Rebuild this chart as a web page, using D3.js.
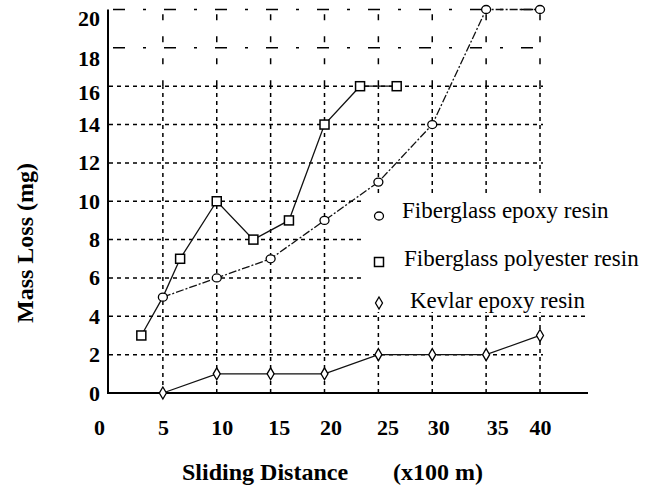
<!DOCTYPE html>
<html>
<head>
<meta charset="utf-8">
<script src="https://cdn.jsdelivr.net/npm/d3@7"></script>
<style>
  body { margin: 0; background: #fff; }
  svg { display: block; }
</style>
</head>
<body>
<svg id="chart" width="657" height="488"></svg>
<script>
// Data
const distance = [5, 10, 15, 20, 25, 30, 35, 40];
const epoxyLoss = [5, 6, 7, 9, 11, 14, 20, 20];
const polyesterDistance = [3, 5, 6.6, 10, 13.4, 16.7, 20, 23.3, 26.7];
const polyesterLoss = [3, 5, 7, 10, 8, 9, 14, 16, 16];
const kevlarLoss = [0, 1, 1, 1, 2, 2, 2, 3];
const seriesNames = ["Fiberglass epoxy resin", "Fiberglass polyester resin", "Kevlar epoxy resin"];
const yTicks = [0, 2, 4, 6, 8, 10, 12, 14, 16, 18, 20];
const xTicks = [0, 5, 10, 15, 20, 25, 30, 35, 40];

const serif = "'Liberation Serif', 'Times New Roman', serif";
const svg = d3.select("#chart");

const x = d3.scaleLinear().domain([0, 40]).range([109, 540]);
const y = d3.scaleLinear().domain([0, 20]).range([393, 9.5]);

// Grid
const grid = svg.append("g").attr("stroke", "#000").attr("stroke-width", 1.5).attr("fill", "none");
xTicks.slice(1).forEach(v => {
    grid.append("line")
        .attr("x1", x(v)).attr("x2", x(v))
        .attr("y1", y(0)).attr("y2", y(16))
        .attr("stroke-dasharray", "4,4");
    grid.append("line")
        .attr("x1", x(v)).attr("x2", x(v))
        .attr("y1", y(16)).attr("y2", y(20))
        .attr("stroke-dasharray", "6,16");
});
yTicks.filter(v => v > 0 && v <= 16).forEach(v => {
    grid.append("line")
        .attr("x1", x(0)).attr("x2", v === 4 ? 588 : x(40) + 3)
        .attr("y1", y(v)).attr("y2", y(v))
        .attr("stroke-dasharray", "4,4");
});
[18, 20].forEach(v => {
    grid.append("line")
        .attr("x1", x(0) + 4).attr("x2", x(40) + 3)
        .attr("y1", y(v)).attr("y2", y(v))
        .attr("stroke-dasharray", "12,18,3,18");
});

// Legend background covers the grid behind it
svg.append("rect")
    .attr("x", 364).attr("y", 193).attr("width", 240).attr("height", 119)
    .attr("fill", "#fff");

// Axis lines
svg.append("line").attr("x1", 108).attr("x2", 108).attr("y1", y(20)).attr("y2", y(0))
    .attr("stroke", "#000").attr("stroke-width", 2);
svg.append("line").attr("x1", 107).attr("x2", 588).attr("y1", y(0)).attr("y2", y(0))
    .attr("stroke", "#000").attr("stroke-width", 2);

// Tick labels
const yNudge = { 16: 6, 18: 11, 20: 9 };
const yAxis = svg.append("g")
    .attr("transform", "translate(108,0)")
    .call(d3.axisLeft(y).tickValues(yTicks).tickSize(0).tickPadding(8))
    .attr("font-family", serif).attr("font-size", 22).attr("font-weight", "bold");
yAxis.select(".domain").remove();
yAxis.selectAll(".tick text")
    .attr("fill", "#000")
    .attr("transform", d => `translate(0,${yNudge[d] || 0})`);

const xNudge = { 0: -10, 10: 5, 15: 8, 20: 6, 25: 9, 30: 6, 35: 11 };
const xAxis = svg.append("g")
    .attr("transform", `translate(0,${y(0)})`)
    .call(d3.axisBottom(x).tickValues(xTicks).tickSize(0).tickPadding(26))
    .attr("font-family", serif).attr("font-size", 22).attr("font-weight", "bold");
xAxis.select(".domain").remove();
xAxis.selectAll(".tick text")
    .attr("fill", "#000")
    .attr("transform", d => `translate(${xNudge[d] || 0},0)`);

// Axis titles
svg.append("text")
    .attr("transform", "translate(33,243) rotate(-90)")
    .attr("text-anchor", "middle")
    .attr("font-family", serif).attr("font-size", 24).attr("font-weight", "bold")
    .text("Mass Loss (mg)");
svg.append("text")
    .attr("x", 182).attr("y", 480)
    .attr("font-family", serif).attr("font-size", 24).attr("font-weight", "bold")
    .text("Sliding Distance");
svg.append("text")
    .attr("x", 393).attr("y", 480)
    .attr("font-family", serif).attr("font-size", 24).attr("font-weight", "bold")
    .text("(x100 m)");

// Series
const epoxy = distance.map((d, i) => ({ d, loss: epoxyLoss[i] }));
const polyester = polyesterDistance.map((d, i) => ({ d, loss: polyesterLoss[i] }));
const kevlar = distance.map((d, i) => ({ d, loss: kevlarLoss[i] }));

const line = d3.line().x(p => x(p.d)).y(p => y(p.loss));

svg.append("path").datum(epoxy)
    .attr("fill", "none").attr("stroke", "#111").attr("stroke-width", 1.3)
    .attr("stroke-dasharray", "8,2,2,2").attr("d", line);
svg.append("path").datum(polyester)
    .attr("fill", "none").attr("stroke", "#111").attr("stroke-width", 1.3)
    .attr("d", line);
svg.append("path").datum(kevlar)
    .attr("fill", "none").attr("stroke", "#111").attr("stroke-width", 1.3)
    .attr("d", line);

const diamond = "M0,-6L3.5,0L0,6L-3.5,0Z";

function drawCircle(g, cx, cy) {
    g.append("ellipse").attr("cx", cx).attr("cy", cy).attr("rx", 4.5).attr("ry", 4)
        .attr("fill", "#fff").attr("stroke", "#000").attr("stroke-width", 1.3);
}
function drawSquare(g, cx, cy) {
    g.append("rect").attr("x", cx - 4.5).attr("y", cy - 4.5).attr("width", 9).attr("height", 9)
        .attr("fill", "#fff").attr("stroke", "#000").attr("stroke-width", 1.5);
}
function drawDiamond(g, cx, cy) {
    g.append("path").attr("d", diamond).attr("transform", `translate(${cx},${cy})`)
        .attr("fill", "#fff").attr("stroke", "#000").attr("stroke-width", 1.3);
}

const marks = svg.append("g");
polyester
    .filter(p => !epoxy.some(e => e.d === p.d && e.loss === p.loss))
    .forEach(p => drawSquare(marks, x(p.d), y(p.loss)));
epoxy.forEach(p => drawCircle(marks, x(p.d), y(p.loss)));
kevlar.forEach(p => drawDiamond(marks, x(p.d), y(p.loss)));

// Legend
const legend = svg.append("g");
const legendRows = [
    { name: seriesNames[0], cy: 216, tx: 402, ty: 218, draw: drawCircle },
    { name: seriesNames[1], cy: 262, tx: 404, ty: 266, draw: drawSquare },
    { name: seriesNames[2], cy: 303, tx: 410, ty: 308, draw: drawDiamond }
];
legendRows.forEach(r => {
    r.draw(legend, 379, r.cy);
    legend.append("text")
        .attr("x", r.tx).attr("y", r.ty)
        .attr("font-family", serif).attr("font-size", 23)
        .text(r.name);
});
</script>
</body>
</html>
